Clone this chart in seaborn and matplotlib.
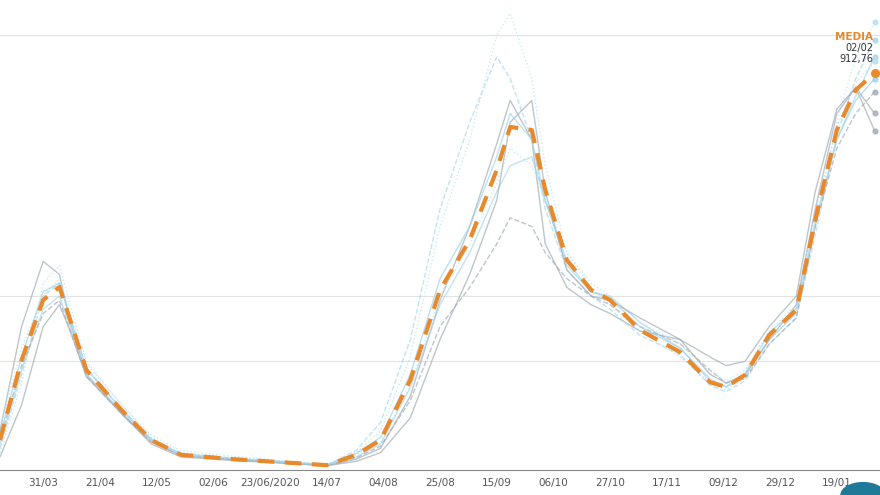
import numpy as np
import pandas as pd
import matplotlib
matplotlib.use("Agg")
import matplotlib.pyplot as plt
import seaborn as sns
from matplotlib.patches import Circle

# dias desde 31/03/2020
dias = [-16, -8, 0, 6, 10, 16, 29, 40, 51, 70, 88, 105, 116, 125, 136, 147, 158, 168, 173,
        181, 186, 194, 203, 210, 221, 236, 247, 253, 260, 269, 279, 286, 294, 301, 308]

media = [69, 253, 391, 421, 345, 230, 138, 69, 35, 25, 18, 11, 35, 69, 207, 414, 529, 690, 789,
         782, 644, 483, 414, 391, 322, 271, 202, 191, 219, 311, 368, 575, 782, 874, 913]

regiones = {
    "r1": [40, 200, 430, 470, 380, 250, 150, 75, 40, 28, 20, 12, 40, 90, 260, 560, 760, 1000, 1050,
           900, 700, 500, 420, 380, 320, 260, 200, 185, 210, 300, 360, 560, 800, 950, 1030],
    "r2": [90, 330, 480, 450, 340, 220, 130, 60, 30, 22, 16, 10, 25, 50, 170, 390, 560, 750, 850,
           760, 520, 420, 380, 360, 320, 300, 260, 240, 250, 330, 400, 640, 830, 880, 820],
    "r3": [60, 230, 370, 400, 330, 220, 135, 70, 38, 27, 20, 12, 30, 60, 190, 380, 500, 640, 700,
           720, 620, 470, 410, 400, 340, 280, 210, 190, 215, 300, 360, 560, 760, 860, 950],
    "r4": [50, 220, 400, 430, 350, 235, 140, 72, 36, 26, 19, 11, 45, 110, 300, 600, 800, 950, 900,
           760, 600, 460, 400, 370, 310, 265, 195, 180, 205, 290, 350, 540, 770, 900, 990],
    "r5": [70, 240, 360, 390, 320, 215, 130, 65, 33, 24, 17, 10, 28, 55, 160, 330, 420, 520, 580,
           560, 500, 440, 400, 380, 330, 290, 230, 200, 210, 290, 350, 560, 740, 820, 870],
    "r6": [100, 280, 400, 440, 360, 245, 150, 80, 45, 32, 22, 14, 35, 65, 195, 400, 520, 660, 740,
           700, 620, 500, 430, 400, 340, 290, 225, 205, 230, 320, 380, 590, 790, 890, 940],
    "r7": [30, 150, 330, 380, 320, 215, 130, 65, 33, 24, 17, 10, 20, 40, 120, 300, 450, 620, 800,
           850, 640, 460, 400, 390, 350, 300, 220, 200, 220, 300, 380, 600, 820, 880, 780],
    "r8": [80, 260, 410, 430, 350, 232, 140, 70, 36, 26, 18, 11, 38, 75, 220, 440, 560, 720, 820,
           760, 620, 480, 410, 395, 330, 280, 205, 192, 222, 315, 372, 570, 760, 850, 900],
}
estilos = {
    "r1": ("#b5e0ef", ":"), "r2": ("#a3adb8", "-"), "r3": ("#a8d8ea", "-"), "r4": ("#a8d8ea", "--"),
    "r5": ("#a3adb8", "--"), "r6": ("#b5e0ef", ":"), "r7": ("#a3adb8", "-"), "r8": ("#9fd3e8", "-"),
}

tick_labels = ["31/03", "21/04", "12/05", "02/06", "23/06/2020", "14/07", "04/08", "25/08",
               "15/09", "06/10", "27/10", "17/11", "09/12", "29/12", "19/01"]
lineas_h = [250, 400, 1000]

sns.set_style("white")
fig = plt.figure(figsize=(8.8, 4.95), dpi=100)
ax = fig.add_axes([0, 25 / 495, 1, 470 / 495])

for y in lineas_h:
    ax.axhline(y, color="#e3e3e3", lw=0.8, zorder=0)

for nombre, vals in regiones.items():
    color, ls = estilos[nombre]
    sns.lineplot(x=dias, y=vals, ax=ax, color=color, linestyle=ls, lw=1.0, alpha=0.7)
    ax.scatter([dias[-1]], [vals[-1]], s=12, color=color, alpha=0.8, zorder=3)

sns.lineplot(x=dias, y=media, ax=ax, color="#e8892b", linestyle=(0, (4, 2.5)), lw=3, zorder=5)
ax.scatter([dias[-1]], [media[-1]], s=30, color="#e8892b", zorder=6)

ax.set_xlim(-16, 310)
ax.set_ylim(0, 1081)
ax.set_xticks(np.arange(len(tick_labels)) * 21)
ax.set_xticklabels(tick_labels, fontsize=7.5, color="#555555", family="Liberation Sans Narrow")
ax.tick_params(axis="x", length=0, pad=6)
ax.set_yticks([])
for s in ["top", "left", "right"]:
    ax.spines[s].set_visible(False)
ax.spines["bottom"].set_color("#888888")

fig.text(873 / 880, 1 - 37 / 495, "MEDIA", color="#e8892b", fontsize=7.5, weight="bold",
         ha="right", va="center")
fig.text(873 / 880, 1 - 48 / 495, "02/02", color="#333333", fontsize=7, ha="right", va="center")
fig.text(873 / 880, 1 - 59 / 495, "912,76", color="#333333", fontsize=7, ha="right", va="center")

fig.patches.append(Circle((863 / 880, 0), 22 / 880, transform=fig.transFigure,
                          color="#1f7a9a", clip_on=False))

fig.savefig("out.png", dpi=100)
